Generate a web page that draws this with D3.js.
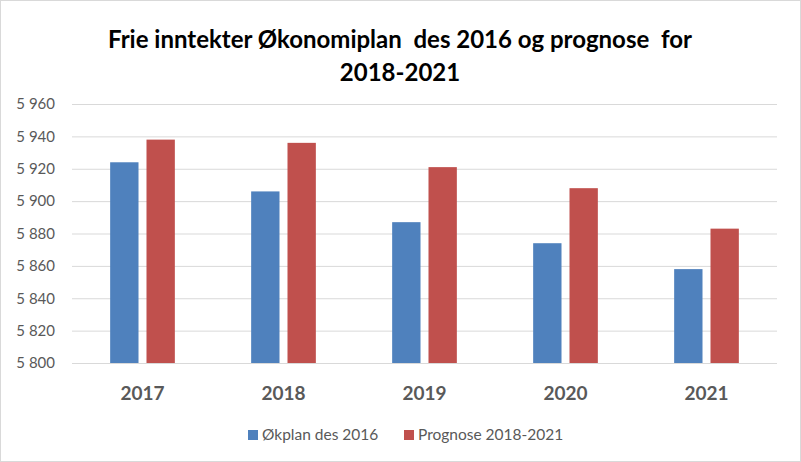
<!DOCTYPE html>
<html><head><meta charset="utf-8">
<script src="https://cdn.jsdelivr.net/npm/d3@7"></script>
<style>body{margin:0;background:#fff;}svg{display:block;}</style>
</head><body>
<script>
const categories = ["2017","2018","2019","2020","2021"];
const seriesNames = ["Økplan des 2016","Prognose 2018-2021"];
const okplan = [5924, 5906, 5887, 5874, 5858];
const prognose = [5938, 5936, 5921, 5908, 5883];
const yTicks = [5800,5820,5840,5860,5880,5900,5920,5940,5960];
const colors = ["#4f81bd","#c0504d"];
const titleLines = ["Frie inntekter Økonomiplan  des 2016 og prognose  for","2018-2021"];

const W=801,H=462;
const svg=d3.select("body").append("svg").attr("width",W).attr("height",H);
svg.append("rect").attr("x",0.5).attr("y",0.5).attr("width",W-1).attr("height",H-1).attr("fill","#fff").attr("stroke","#d9d9d9");

const font="Lato, 'Open Sans', sans-serif";
const m={left:72,right:777,top:104,bottom:363};
const x=d3.scaleBand().domain(categories).range([m.left,m.right]);
const x1=d3.scaleBand().domain([0,1]).range([0,x.bandwidth()]).paddingInner(0.22).paddingOuter(1.05);
const y=d3.scaleLinear().domain([5800,5960]).range([m.bottom,m.top]);

// gridlines
const yAxis=d3.axisLeft(y).tickValues(yTicks).tickSize(-(m.right-m.left)).tickFormat(d=>d3.format(",")(d).replace(","," "));
const ga=svg.append("g").attr("transform",`translate(${m.left},0)`).call(yAxis);
ga.select(".domain").remove();
ga.selectAll(".tick line").attr("stroke","#d9d9d9").attr("stroke-width",1);
ga.selectAll(".tick text").attr("x",-17).attr("fill","#595959").style("font-family",font).style("font-size","15px");

const data=[okplan,prognose];
data.forEach((vals,si)=>{
  svg.append("g").selectAll("rect").data(vals).join("rect")
    .attr("x",(d,i)=>x(categories[i])+x1(si))
    .attr("width",x1.bandwidth())
    .attr("y",d=>y(d)).attr("height",d=>y(5800)-y(d))
    .attr("fill",colors[si]);
});

const xAxis=d3.axisBottom(x).tickSize(0);
const gx=svg.append("g").attr("transform",`translate(0,${m.bottom})`).call(xAxis);
gx.select(".domain").remove();
gx.selectAll(".tick text").attr("dy","0").attr("y",37).attr("fill","#595959").style("font-family",font).style("font-size","19px").style("font-weight","bold");

// title
svg.append("g").selectAll("text").data(titleLines).join("text")
  .attr("x",400).attr("y",(d,i)=>48+i*33).attr("text-anchor","middle")
  .style("font-family",font).style("font-weight","bold").style("font-size","24px").attr("fill","#000")
  .style("white-space","pre").text(d=>d);

// legend
const leg=svg.append("g");
const legX=[248,404];
seriesNames.forEach((n,i)=>{
  leg.append("rect").attr("x",legX[i]).attr("y",430).attr("width",10).attr("height",10).attr("fill",colors[i]);
  leg.append("text").attr("x",legX[i]+14).attr("y",440).text(n).attr("fill","#595959").style("font-family",font).style("font-size","15.5px");
});
</script>
</body></html>
